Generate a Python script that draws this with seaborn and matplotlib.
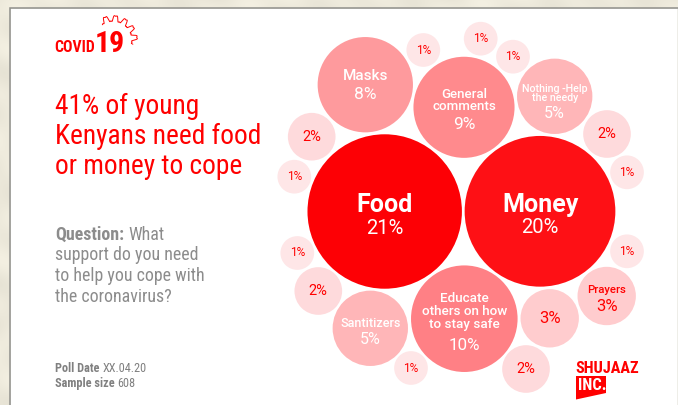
import matplotlib
matplotlib.use("Agg")
import matplotlib.pyplot as plt
from matplotlib.patches import Polygon, Rectangle
import numpy as np
import pandas as pd
import seaborn as sns

# Poll answers, one entry per bubble
answers = ["Food", "Money", "Educate\nothers on how\nto stay safe", "General\ncomments", "Masks",
           "Nothing -Help\nthe needy", "Santitizers", "Prayers", "", "", "", "", "", "",
           "", "", "", "", "", "", ""]
shares = [21, 20, 10, 9, 8, 5, 5, 3, 3, 2, 2, 2, 2, 1, 1, 1, 1, 1, 1, 1, 1]

# Hand-packed bubble layout, in pixels from the top-left corner of the card
layout_x = [384.7, 540.0, 464.3, 464.0, 365.3, 554.7, 370.3, 606.7, 549.7, 311.7, 607.0, 318.3, 526.0,
            423.3, 480.7, 513.0, 294.3, 627.0, 297.3, 627.0, 411.0]
layout_y = [211.5, 211.3, 318.7, 107.3, 84.7, 96.3, 328.3, 296.0, 318.3, 136.7, 134.0, 291.0, 369.0,
            50.0, 38.7, 56.7, 176.7, 172.3, 253.0, 251.3, 368.0]

W, H = 678, 405
RED = "#FF0000"
COND = ["Roboto Condensed", "Barlow Condensed", "DejaVu Sans"]
ROBOTO = ["Roboto", "DejaVu Sans"]

bubble_colors = {21: "#FD0005", 20: "#FE1015", 10: "#FF8085", 9: "#FF8A8D", 8: "#FE9A9D",
                 5: "#FFB6B8", 3: "#FFCCCE", 2: "#FEDADC", 1: "#FEE6E7"}
# Marker area (pt^2) per percentage point: bubble area is proportional to the share
AREA_PER_POINT = (2 * 16.85 * 0.72) ** 2

sns.set_theme(style="white")
fig = plt.figure(figsize=(W / 100, H / 100), dpi=100)
ax = fig.add_axes([0, 0, 1, 1])
ax.set_xlim(0, W)
ax.set_ylim(H, 0)
ax.axis("off")

# Parchment backdrop behind the card
gx, gy = np.meshgrid(np.linspace(0, 1, W), np.linspace(0, 1, H))
mottle = (np.sin(gx * 37 + np.sin(gy * 23) * 2) + np.sin(gy * 61 + gx * 19) + np.sin(gx * 91 - gy * 47)) / 3
paper = np.clip(np.array([0.93, 0.915, 0.86]) + mottle[..., None] * 0.025, 0, 1)
ax.imshow(paper, extent=(0, W, H, 0), aspect="auto", zorder=0)
ax.set_xlim(0, W)
ax.set_ylim(H, 0)

# White card with a thin grey rule along the top and left
ax.add_patch(Rectangle((10, 8), 667, 400, facecolor="white", edgecolor="#EDEDE8", linewidth=0.6, zorder=1))
ax.plot([9.5, 9.5, 678], [405, 7.5, 7.5], color="#8F8F8B", linewidth=1.1, zorder=2, solid_joinstyle="miter")

frame = pd.DataFrame({"answer": answers, "share": shares, "x": layout_x, "y": layout_y})
sns.scatterplot(data=frame, x="x", y="y", hue="share", palette=bubble_colors, size="share",
                sizes=(AREA_PER_POINT, 21 * AREA_PER_POINT), size_norm=(1, 21),
                linewidth=0, legend=False, ax=ax, zorder=3)
ax.set_xlabel("")
ax.set_ylabel("")

# Bubble captions: name size, name offset, value size, value offset, line spacing, name weight
caption_style = {
    "Food": (18, -6.5, 14.5, 16.5, 1.0, 700),
    "Money": (18, -6.5, 14.5, 16.5, 1.0, 700),
    "Educate\nothers on how\nto stay safe": (9.7, -7.5, 12.2, 26.5, 1.0, 500),
    "General\ncomments": (9.6, -6.5, 12.5, 17.5, 0.92, 500),
    "Masks": (11, -8.5, 12.5, 9.5, 1.0, 500),
    "Nothing -Help\nthe needy": (7.7, -3, 11.5, 17, 0.92, 500),
    "Santitizers": (9.1, -5, 11.5, 11, 1.0, 500),
    "Prayers": (8.2, -6, 12, 10.5, 1.0, 500),
}
small_value_size = {3: 12, 2: 10.5, 1: 8.6}
for row in frame.itertuples():
    pct = f"{row.share}%"
    if row.answer:
        name_size, name_dy, value_size, value_dy, spacing, weight = caption_style[row.answer]
        ink = RED if row.answer == "Prayers" else "white"
        ax.text(row.x, row.y + name_dy, row.answer, color=ink, fontsize=name_size, fontweight=weight,
                family=ROBOTO, ha="center", va="center", linespacing=spacing, zorder=4)
        ax.text(row.x, row.y + value_dy, pct, color=ink, fontsize=value_size, fontweight=400,
                family=ROBOTO, ha="center", va="center", zorder=4)
    else:
        ax.text(row.x, row.y, pct, color=RED, fontsize=small_value_size[row.share], fontweight=400,
                family=ROBOTO, ha="center", va="center", zorder=4)


def text_run(x, y, parts, size, color):
    """Write differently weighted pieces one after another on a shared baseline."""
    renderer = fig.canvas.get_renderer()
    for content, weight in parts:
        piece = ax.text(x, y, content, fontsize=size, fontweight=weight, color=color, family=COND,
                        ha="left", va="baseline", zorder=4)
        x = piece.get_window_extent(renderer).x1 + size * 0.34


# Headline and question copy
for line, base in zip(["41% of young", "Kenyans need food", "or money to cope"], [113.5, 143.5, 173.5]):
    ax.text(55, base, line, color=RED, fontsize=19.7, family=COND, ha="left", va="baseline", zorder=4)

text_run(55, 240, [("Question:", 700), ("What", 400)], 12.9, "#8C8C8C")
for line, base in zip(["support do you need", "to help you cope with", "the coronavirus?"], [260.5, 281, 301.5]):
    ax.text(55, base, line, color="#8C8C8C", fontsize=12.9, family=COND, ha="left", va="baseline", zorder=4)

text_run(55, 372, [("Poll Date", 700), ("XX.04.20", 400)], 8.8, "#808080")
text_run(55, 387, [("Sample size", 700), ("608", 400)], 8.8, "#808080")

# COVID 19 wordmark with its spiked ring
ax.text(54, 51.5, "COVID", color=RED, fontsize=11.3, fontweight=700, family=COND, ha="left", va="baseline", zorder=4)
ax.text(95, 51.5, "19", color=RED, fontsize=21.5, fontweight=700, family=COND, ha="left", va="baseline", zorder=4)
theta = np.radians(np.linspace(125, -12, 500))
radius = 21.5 + 3.2 * np.sin(theta * 14) + 0.9 * np.sin(theta * 42)
ax.plot(113 + radius * np.cos(theta), 40 - radius * np.sin(theta), color=RED, linewidth=0.7, zorder=4)

# Shujaaz Inc. badge
ax.text(575.5, 373, "SHUJAAZ", color=RED, fontsize=11.6, fontweight=800, family=COND,
        ha="left", va="baseline", zorder=4)
ax.add_patch(Polygon([(576, 376), (606, 376), (606, 393), (576, 399.5)], facecolor=RED, edgecolor="none", zorder=4))
ax.text(578, 390.5, "INC.", color="white", fontsize=11.8, fontweight=800, family=COND,
        ha="left", va="baseline", zorder=5)

fig.savefig("out.png", dpi=100)
